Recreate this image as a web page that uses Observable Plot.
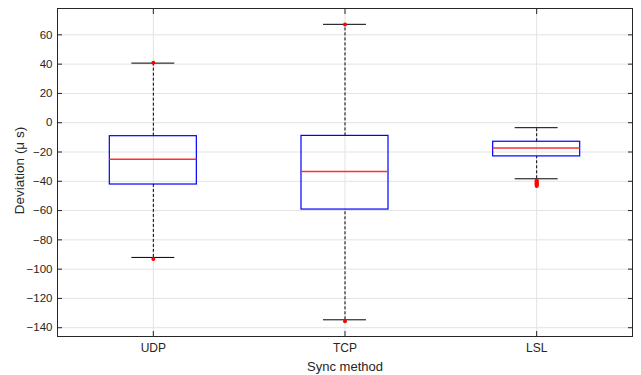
<!DOCTYPE html>
<html>
<head>
<meta charset="utf-8">
<script src="https://cdn.jsdelivr.net/npm/d3@7"></script>
<script src="https://cdn.jsdelivr.net/npm/@observablehq/plot@0.6"></script>
<style>
  html, body { margin: 0; padding: 0; background: #fff; }
  svg { font-family: "Liberation Sans", Arial, sans-serif; }
</style>
</head>
<body>
<div id="chart"></div>
<script>
const categories = ["UDP", "TCP", "LSL"];
const lowerWhisker = [-92.0, -134.6, -38.3];
const q1 = [-42.2, -59.3, -23.0];
const median = [-24.9, -33.3, -17.3];
const q3 = [-9.2, -9.0, -13.0];
const upperWhisker = [40.7, 67.2, -3.4];
const outlierCategory = ["UDP", "UDP", "TCP", "TCP", "LSL", "LSL", "LSL", "LSL", "LSL", "LSL", "LSL"];
const outlierValue = [41.0, -93.0, 67.0, -135.6, -39.5, -40.2, -40.8, -41.4, -42.0, -42.6, -43.2];
const yTicks = [-140, -120, -100, -80, -60, -40, -20, 0, 20, 40, 60];

const stats = categories.map((c, i) => ({
  cat: c, idx: i + 1,
  lo: lowerWhisker[i], q1: q1[i], med: median[i], q3: q3[i], hi: upperWhisker[i]
}));
const outliers = outlierCategory.map((c, i) => ({ idx: categories.indexOf(c) + 1, v: outlierValue[i] }));

const boxHalf = 0.227;
const capHalf = 0.112;
const xTicks = categories.map((c, i) => i + 1);

const chart = Plot.plot({
  width: 641,
  height: 375,
  marginLeft: 57,
  marginRight: 9,
  marginTop: 8,
  marginBottom: 39,
  style: { fontFamily: "Liberation Sans, Arial, sans-serif", fontSize: "11.5px", color: "#262626", background: "#fff" },
  x: { domain: [0.5, 3.5] },
  y: { domain: [-146, 78] },
  marks: [
    Plot.gridY(yTicks, { stroke: "#e3e3e3", strokeOpacity: 1 }),
    Plot.gridX(xTicks, { stroke: "#e3e3e3", strokeOpacity: 1 }),
    Plot.ruleX(stats, { x: "idx", y1: "q3", y2: "hi", stroke: "#000", strokeDasharray: "3,2", strokeWidth: 1 }),
    Plot.ruleX(stats, { x: "idx", y1: "lo", y2: "q1", stroke: "#000", strokeDasharray: "3,2", strokeWidth: 1 }),
    Plot.ruleY(stats, { y: "hi", x1: d => d.idx - capHalf, x2: d => d.idx + capHalf, stroke: "#000" }),
    Plot.ruleY(stats, { y: "lo", x1: d => d.idx - capHalf, x2: d => d.idx + capHalf, stroke: "#000" }),
    Plot.rect(stats, { x1: d => d.idx - boxHalf, x2: d => d.idx + boxHalf, y1: "q1", y2: "q3", fill: "none", stroke: "#0000ff", strokeWidth: 1.2 }),
    Plot.ruleY(stats, { y: "med", x1: d => d.idx - boxHalf, x2: d => d.idx + boxHalf, stroke: "#ff3030", strokeWidth: 1.6 }),
    Plot.dot(outliers, { x: "idx", y: "v", r: 2, fill: "#ff0000", stroke: "none" }),
    Plot.frame({ stroke: "#262626", strokeWidth: 1 }),
    Plot.axisY(yTicks, { anchor: "left", tickSize: -5, tickPadding: 10, label: null, stroke: "#262626", fill: "#262626", fontSize: 11.5 }),
    Plot.axisY(yTicks, { anchor: "right", tickSize: -5, tickFormat: () => "", label: null, stroke: "#262626" }),
    Plot.axisX(xTicks, { anchor: "bottom", tickSize: -5, tickPadding: 12, tickFormat: d => categories[d - 1], label: null, stroke: "#262626", fill: "#262626", fontSize: 12 }),
    Plot.axisX(xTicks, { anchor: "top", tickSize: -5, tickFormat: () => "", label: null, stroke: "#262626" }),
    Plot.text(["Sync method"], { frameAnchor: "bottom", lineAnchor: "middle", textAnchor: "middle", dy: 30, fontSize: 13, fill: "#262626" }),
    Plot.text(["Deviation (\u03bc s)"], { frameAnchor: "left", textAnchor: "middle", lineAnchor: "middle", dx: -38, dy: -2, rotate: -90, fontSize: 13.5, fill: "#262626" })
  ]
});
document.getElementById("chart").appendChild(chart);
</script>
</body>
</html>
